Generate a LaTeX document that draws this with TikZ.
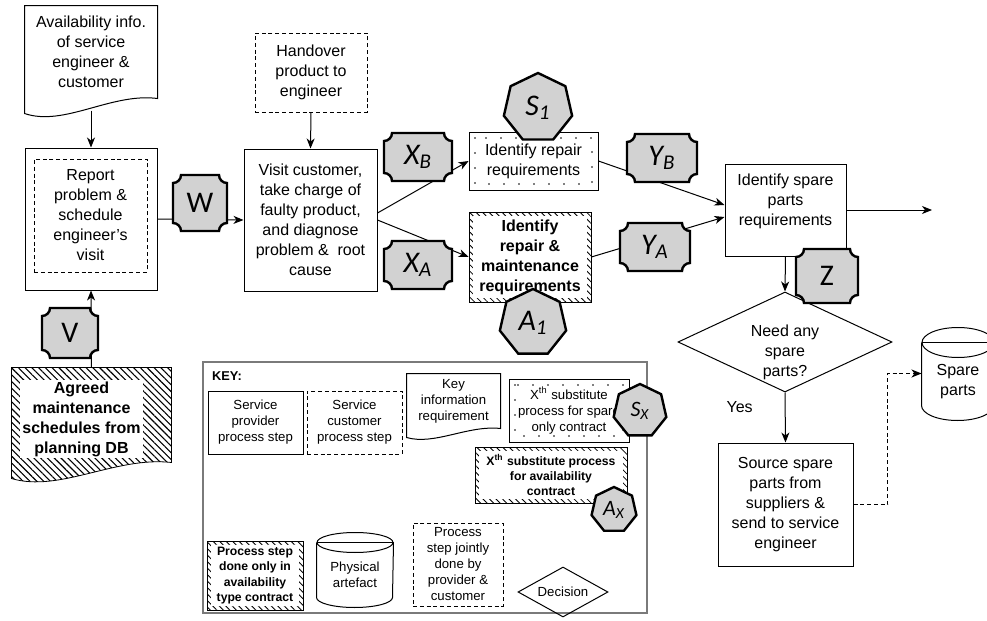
\documentclass[tikz,border=0pt]{standalone}
\usepackage{fontspec}
\setmainfont{Liberation Sans}
\newfontfamily\tagfont{Carlito}
\usetikzlibrary{arrows.meta,shapes.geometric,patterns.meta,calc}
\definecolor{tagGrey}{HTML}{D2D2D2}
\definecolor{keyGrey}{HTML}{7A7A7A}

% grey tag with concave corners: name, x, y, half width, half height, label
\newcommand{\plaque}[6]{%
  \filldraw[plaque] (#2-#4+8,#3-#5) -- (#2+#4-8,#3-#5)
    arc[start angle=180,end angle=270,radius=4pt] -- (#2+#4,#3+#5-8)
    arc[start angle=90,end angle=180,radius=4pt] -- (#2-#4+8,#3+#5)
    arc[start angle=0,end angle=90,radius=4pt] -- (#2-#4,#3-#5+8)
    arc[start angle=270,end angle=360,radius=4pt] -- cycle;
  \node[plaquelabel] (#1) at (#2,#3) {#6};}
% document outline under a node: options, node, width, drop of the wave
\newcommand{\docoutline}[4][]{%
  \draw[#1] (#2.south east) -- (#2.north east) -- (#2.north west) -- ([yshift=-#4]#2.south west)
    .. controls ([xshift=0.3*#3,yshift=-1.9*#4]#2.south west) and ([xshift=-0.35*#3,yshift=0.4*#4]#2.south east) .. (#2.south east) -- cycle;}
% drum outline round a node: node, half width, ellipse height
\newcommand{\cylinderoutline}[3]{%
  \draw (#1.north west) -- ([yshift=#3]#1.south west)
    arc[start angle=180,end angle=360,x radius=#2,y radius=#3] -- (#1.north east);
  \draw (#1.north) ellipse[x radius=#2,y radius=#3];
  \draw (#1.north west) -- (#1.north east);}

\begin{document}
\begin{tikzpicture}[x=0.5pt,y=-0.5pt,line width=0.5pt,
    every node/.style={align=center,inner sep=0pt},
    main/.style={font=\fontsize{8}{10}\selectfont},
    boldmain/.style={font=\fontsize{8}{10}\selectfont\bfseries},
    keytext/.style={font=\fontsize{6.6}{8}\selectfont},
    boldkey/.style={font=\fontsize{6.1}{7.6}\selectfont\bfseries},
    provider/.style={draw},
    dashline/.style={line width=0.45pt,dash pattern=on 2pt off 1.4pt},
    customer/.style={draw,dashline},
    dotbox/.style={draw,line width=0.45pt,path picture={
        \draw[line width=0.9pt,line cap=round,dash pattern=on 0pt off 7.5pt]
          ([shift={(3pt,-3pt)}]path picture bounding box.north west) rectangle
          ([shift={(-3pt,3pt)}]path picture bounding box.south east);}},
    hatchbox/.style={draw,line width=0.35pt,pattern={Lines[angle=-45,distance=2.3pt,line width=0.4pt]},
      path picture={
        \fill[white] ([shift={(2pt,-2pt)}]path picture bounding box.north west) rectangle
          ([shift={(-2pt,2pt)}]path picture bounding box.south east);}},
    decision/.style={draw,diamond,aspect=2.14},
    flow/.style={-{Stealth[length=5pt,width=4pt,inset=1.5pt]}},
    heptagon/.style={draw,regular polygon,regular polygon sides=7,line width=1.2pt,fill=tagGrey},
    plaque/.style={draw,line width=1.2pt,fill=tagGrey},
    plaquelabel/.style={font=\tagfont\fontsize{15}{15}\selectfont}]
  \useasboundingbox (0,0) rectangle (987,621);

  \node[main,minimum width=66pt,minimum height=46pt] (info) at (91,52)
    {Availability info.\\of service\\engineer \&\\customer};
  \docoutline{info}{66pt}{7.5pt}
  \node[provider,minimum width=66pt,minimum height=71pt] (report) at (91,219) {};
  \node[main,customer,minimum width=56.5pt,minimum height=56.5pt] (schedule) at (90.5,215.5)
    {Report\\problem \&\\schedule\\engineer's\\visit};
  \node[minimum width=79.5pt,minimum height=47pt] (agreeddoc) at (91.5,415) {};
  \docoutline[line width=0.4pt,pattern={Lines[angle=-45,distance=2.4pt,line width=0.55pt]}]{agreeddoc}{79.5pt}{8pt}
  \node[boldmain,fill=white,minimum width=61.5pt,minimum height=39pt] (agreed) at (81.5,419)
    {Agreed\\maintenance\\schedules from\\planning DB};

  \node[main,customer,minimum width=56pt,minimum height=39.5pt] (handover) at (311,72.5)
    {Handover\\product to\\engineer};
  \node[main,provider,minimum width=66.5pt,minimum height=71pt] (visit) at (310.5,220)
    {Visit customer,\\take charge of\\faulty product,\\and diagnose\\problem \&\ \ root\\cause};
  \node[main,dotbox,minimum width=64.5pt,minimum height=29pt] (repair) at (533.5,161)
    {Identify repair\\requirements};
  \node[boldmain,hatchbox,minimum width=61pt,minimum height=45pt] (maint) at (530,257)
    {Identify\\repair \&\\maintenance\\requirements};
  \node[main,provider,minimum width=60.5pt,minimum height=46pt] (spare) at (785.5,210)
    {Identify spare\\parts\\requirements\\\mbox{}};
  \node[decision,minimum width=107pt,minimum height=50pt,
    label={[main,name=needtext,yshift=-5pt]center:Need any\\spare\\parts?}] (need) at (785,342) {};
  \node[main,provider,minimum width=67.5pt,minimum height=61.5pt] (source) at (785.5,504.5)
    {Source spare\\parts from\\suppliers \&\\send to service\\engineer};
  \node[main,minimum width=36pt,minimum height=38.5pt] (db) at (958,381.5) {Spare\\parts};
  \cylinderoutline{db}{18pt}{7.5pt}
  \coordinate (exit) at (932,210);

  \draw[flow] ([yshift=-6pt]info.south) -- (report.north);
  \draw[flow] (agreeddoc.north) -- (report.south);
  \draw[flow] (report.east) -- (visit.west);
  \draw[flow] (handover.south) -- (visit.north);
  \draw[flow] ([yshift=3.5pt]visit.east) -- (repair.west);
  \draw[flow] (visit.east) -- (maint.west);
  \draw[flow] (repair.east) -- ([yshift=2.5pt]spare.west);
  \draw[flow] (maint.east) -- ([yshift=-3.5pt]spare.west);
  \draw[flow] (spare.east) -- (exit);
  \draw[flow] (spare.south) -- (need.north);
  \draw[flow] (need.south) -- node[main,pos=0.3,left=16pt] (yes) {Yes} (source.north);
  \draw[flow,dashline] (source.east) -- ++(17pt,0) |- ([yshift=4pt]db.west);

  \plaque{w}{200}{203}{27}{28}{W}
  \plaque{v}{70}{333}{28}{25}{V}
  \plaque{xb}{418}{157}{34}{24}{\itshape X\textsubscript{B}}
  \plaque{xa}{418}{265}{34}{24}{\itshape X\textsubscript{A}}
  \plaque{yb}{662}{158}{35}{24}{\itshape Y\textsubscript{B}}
  \plaque{ya}{655}{247}{35}{24}{\itshape Y\textsubscript{A}}
  \plaque{z}{827}{276}{31}{27}{Z}
  \node[heptagon,minimum size=35pt,font=\tagfont\itshape\fontsize{15}{15}\selectfont] (s1) at (538,108) {S\textsubscript{1}};
  \node[heptagon,minimum size=34pt,font=\tagfont\itshape\fontsize{15}{15}\selectfont] (a1) at (533,323) {A\textsubscript{1}};

  % key
  \node[draw=keyGrey,line width=0.9pt,minimum width=222pt,minimum height=125.5pt] (key) at (425,487.5) {};
  \node[boldkey,font=\fontsize{6.4}{8}\selectfont\bfseries] (keytitle) at (227,376) {KEY:};
  \node[keytext,provider,minimum width=47.5pt,minimum height=31.5pt] (kprov) at (255.5,422.5)
    {Service\\provider\\process step};
  \node[keytext,customer,minimum width=47.5pt,minimum height=31.5pt] (kcust) at (354.5,422.5)
    {Service\\customer\\process step};
  \node[keytext,minimum width=46.5pt,minimum height=27pt] (kinfo) at (453.5,401)
    {Key\\information\\requirement};
  \docoutline{kinfo}{46.5pt}{4.5pt}
  \node[keytext,dotbox,minimum width=60pt,minimum height=31.5pt] (kspare) at (569,410.5)
    {X\textsuperscript{th} substitute\\process for spare\\only contract};
  \node[boldkey,hatchbox,minimum width=76pt,minimum height=28pt] (kavail) at (551,475)
    {X\textsuperscript{th} substitute process\\for availability\\contract};
  \node[heptagon,minimum size=27pt,font=\tagfont\itshape\fontsize{11}{11}\selectfont] (sx) at (640,411) {S\textsubscript{X}};
  \node[heptagon,minimum size=23pt,font=\tagfont\itshape\fontsize{11}{11}\selectfont] (ax) at (614,510) {A\textsubscript{X}};
  \node[boldkey,hatchbox,minimum width=48pt,minimum height=34.5pt] (konly) at (255,575.5)
    {Process step\\done only in\\availability\\type contract};
  \node[keytext,minimum width=38pt,minimum height=32pt] (kphys) at (355,575) {Physical\\artefact};
  \cylinderoutline{kphys}{19pt}{5pt}
  \node[keytext,customer,minimum width=45pt,minimum height=41.5pt] (kjoint) at (458,564.5)
    {Process\\step jointly\\done by\\provider \&\\customer};
  \node[keytext,decision,minimum width=45pt,minimum height=25pt] (kdec) at (563,592) {Decision};
\end{tikzpicture}
\end{document}
